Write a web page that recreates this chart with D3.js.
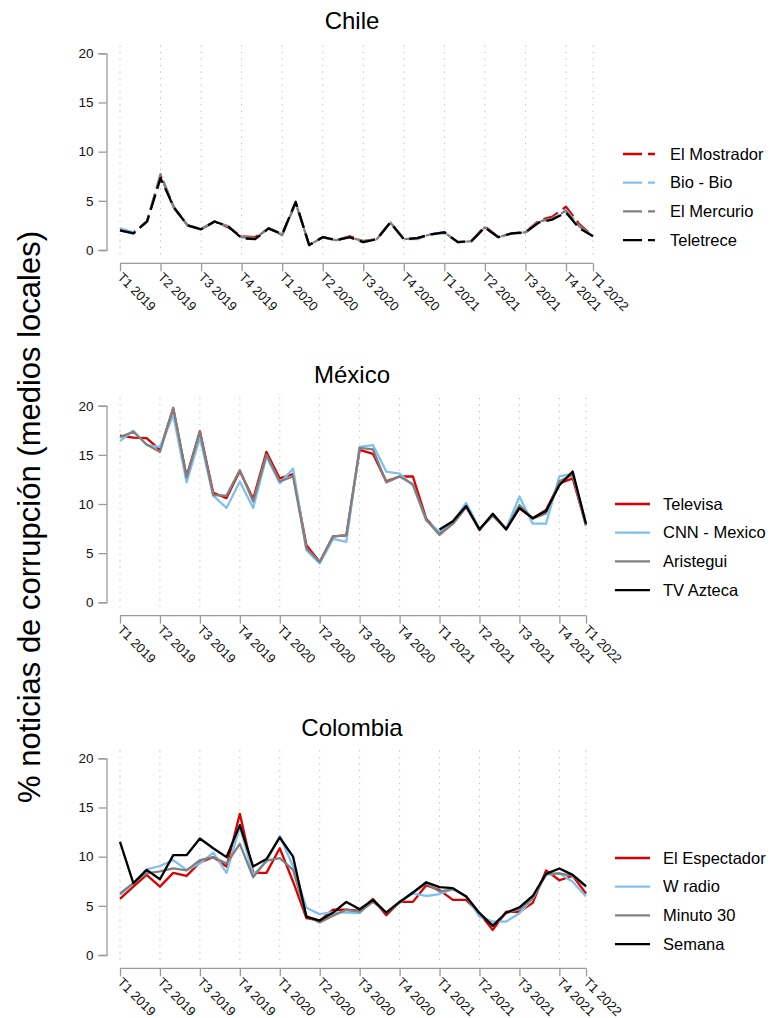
<!DOCTYPE html>
<html>
<head>
<meta charset="utf-8">
<script src="https://cdn.jsdelivr.net/npm/d3@7"></script>
<style>
  html, body { margin: 0; padding: 0; background: #fff; }
  svg { display: block; font-family: "Liberation Sans", Arial, Helvetica, sans-serif; }
</style>
</head>
<body>
<svg id="chart" width="772" height="1018"></svg>
<script>
// Quarter labels shown on the x axis (monthly data, one tick every 3 months)
const quarterLabels = ["T1 2019","T2 2019","T3 2019","T4 2019","T1 2020","T2 2020",
  "T3 2020","T4 2020","T1 2021","T2 2021","T3 2021","T4 2021","T1 2022"];
const quarterIdx = [0,3,6,9,12,15,18,21,24,27,30,33,35];
const yTicks = [0,5,10,15,20];

// Chile (monthly %)
const chileOutlets = ["El Mostrador","Bio - Bio","El Mercurio","Teletrece"];
const elMostrador = [2.0,1.8,2.9,7.6,4.3,2.5,2.1,2.9,2.3,1.4,1.3,2.2,1.6,4.8,0.5,1.3,1.0,1.4,
  0.9,1.1,2.8,1.1,1.2,1.6,1.8,0.8,0.9,2.4,1.3,1.7,1.8,3.0,3.4,4.4,2.6,1.4];
const bioBio = [2.2,1.8,2.9,7.7,4.3,2.5,2.2,2.9,2.4,1.3,1.2,2.2,1.6,4.7,0.5,1.3,1.0,1.3,
  0.8,1.1,2.8,1.1,1.1,1.6,1.7,0.8,0.9,2.3,1.3,1.7,1.7,2.9,3.2,4.1,2.4,1.4];
const elMercurio = [2.0,1.7,2.9,7.7,4.3,2.5,2.1,2.9,2.4,1.3,1.2,2.2,1.5,4.8,0.5,1.3,1.0,1.3,
  0.9,1.1,2.8,1.1,1.2,1.6,1.8,0.8,0.9,2.3,1.3,1.7,1.8,2.9,3.2,4.0,2.4,1.4];
const teletrece = [2.0,1.7,2.9,7.3,4.3,2.5,2.1,2.9,2.4,1.2,1.1,2.2,1.6,4.9,0.5,1.3,1.0,1.3,
  0.8,1.1,2.8,1.1,1.2,1.6,1.8,0.8,0.9,2.3,1.3,1.7,1.8,2.8,3.1,3.8,2.2,1.4];

// México (monthly %)
const mexicoOutlets = ["Televisa","CNN - Mexico","Aristegui","TV Azteca"];
const televisa = [16.95,16.75,16.7,15.5,19.7,12.8,17.4,11.15,10.6,13.35,10.5,15.3,12.6,13.05,5.8,4.1,6.7,6.8,
  15.5,15.1,12.3,12.8,12.8,8.5,7.0,8.0,9.7,7.35,8.95,7.5,9.55,8.55,9.4,12.1,12.6,7.85];
const cnnMexico = [16.4,17.45,16.0,15.8,19.05,12.2,16.75,10.85,9.6,12.3,9.6,14.8,12.1,13.6,5.3,3.95,6.45,6.15,
  15.8,16.0,13.3,13.1,11.9,8.3,7.2,8.2,10.1,7.5,8.8,7.5,10.75,8.0,8.0,12.8,13.1,7.9];
const aristegui = [16.8,17.35,16.05,15.3,19.8,12.7,17.35,10.9,10.85,13.45,10.25,15.0,12.3,12.8,5.5,4.1,6.7,6.8,
  15.7,15.55,12.2,12.8,12.0,8.4,6.85,8.0,9.7,7.45,8.8,7.45,9.9,8.5,9.05,12.3,13.0,7.8];
const tvAzteca = [null,null,null,null,null,null,null,null,null,null,null,null,null,null,null,null,null,null,
  null,null,null,null,null,null,7.4,8.25,9.8,7.4,9.0,7.4,9.6,8.55,9.3,11.9,13.3,8.0];

// Colombia (monthly %)
const colombiaOutlets = ["El Espectador","W radio","Minuto 30","Semana"];
const elEspectador = [5.7,6.95,8.15,6.95,8.35,8.05,9.4,9.95,9.0,14.35,8.35,8.35,10.85,7.45,3.75,3.5,4.6,4.6,
  4.5,5.7,4.05,5.4,5.4,7.1,6.6,5.6,5.6,4.25,2.55,4.4,4.4,5.3,8.6,7.6,8.05,6.25];
const wRadio = [6.1,7.3,8.7,9.05,9.65,8.65,9.3,10.4,8.35,13.05,8.15,9.5,12.1,9.0,4.8,4.15,4.35,4.3,
  4.25,5.6,4.3,5.4,6.25,6.0,6.2,6.7,5.95,3.9,3.4,3.4,4.25,5.75,8.15,8.3,7.45,5.95];
const minuto30 = [6.25,7.3,8.3,8.5,8.8,8.6,9.65,9.95,9.3,11.3,7.9,9.6,9.85,8.65,3.95,3.3,4.0,4.6,
  4.4,5.4,4.3,5.3,6.35,7.3,6.45,6.7,5.95,4.25,3.05,4.25,4.65,5.75,8.25,8.3,8.05,6.95];
const semana = [11.5,7.3,8.65,7.7,10.15,10.15,11.85,10.85,9.95,13.2,9.0,9.75,11.95,10.0,3.9,3.5,4.3,5.4,
  4.65,5.6,4.3,5.4,6.35,7.4,6.9,6.8,5.95,4.25,2.95,4.3,4.85,6.0,8.25,8.8,8.15,7.0];

const seriesColors = ["#dc0000","#7fc1ec","#808080","#000000"];

const panels = [
  { title: "Chile", outlets: chileOutlets, series: [elMostrador, bioBio, elMercurio, teletrece],
    dashed: true, x0: 120, x1: 593, yTop: 53.3, yBottom: 250, titleY: 29,
    legendY: 154, legendX0: 623, legendX1: 655, legendText: 670 },
  { title: "México", outlets: mexicoOutlets, series: [televisa, cnnMexico, aristegui, tvAzteca],
    dashed: false, x0: 120, x1: 586, yTop: 405.7, yBottom: 602.3, titleY: 383,
    legendY: 504, legendX0: 615, legendX1: 650, legendText: 663 },
  { title: "Colombia", outlets: colombiaOutlets, series: [elEspectador, wRadio, minuto30, semana],
    dashed: false, x0: 120, x1: 586, yTop: 758.3, yBottom: 955, titleY: 736,
    legendY: 858, legendX0: 615, legendX1: 650, legendText: 663 }
];

const svg = d3.select("#chart");
const axisGray = "#9a9a9a";
const dashPattern = "16,6";

panels.forEach(p => {
  const x = d3.scaleLinear().domain([0, 35]).range([p.x0, p.x1]);
  const y = d3.scaleLinear().domain([0, 20]).range([p.yBottom, p.yTop]);
  const g = svg.append("g");
  const unit = (p.yBottom - p.yTop) / 20;
  const gridTop = y(20) - 0.8 * unit, gridBottom = y(0) + 0.8 * unit;
  const axisY = p.yBottom + 13.3;

  // Title
  g.append("text").attr("x", 352).attr("y", p.titleY).attr("text-anchor", "middle")
    .attr("font-size", 24).attr("fill", "#000").text(p.title);

  // Dotted vertical gridlines at each quarter
  g.selectAll("line.grid").data(quarterIdx).enter().append("line")
    .attr("x1", d => x(d)).attr("x2", d => x(d))
    .attr("y1", gridTop).attr("y2", gridBottom)
    .attr("stroke", "#bdbdbd").attr("stroke-width", 1).attr("stroke-dasharray", "1.3,5.2");

  // Y axis
  const yAxis = d3.axisLeft(y).tickValues(yTicks).tickSize(8).tickPadding(5);
  const ya = g.append("g").attr("transform", "translate(106.5,0)").call(yAxis);
  ya.select(".domain").attr("stroke", axisGray).attr("stroke-width", 1.3);
  ya.selectAll(".tick line").attr("stroke", axisGray).attr("stroke-width", 1.3);
  ya.selectAll(".tick text").attr("font-size", 13.5).attr("fill", "#111")
    .attr("font-family", "'Liberation Sans', Arial, sans-serif");

  // X axis (quarter ticks, rotated labels)
  const xAxis = d3.axisBottom(x).tickValues(quarterIdx).tickSize(8)
    .tickFormat((d, i) => quarterLabels[i]);
  const xa = g.append("g").attr("transform", `translate(0,${axisY})`).call(xAxis);
  xa.select(".domain").attr("stroke", axisGray).attr("stroke-width", 1.3)
    .attr("d", `M${x(0)},0H${x(35)}`);
  xa.selectAll(".tick line").attr("stroke", axisGray).attr("stroke-width", 1.3);
  xa.selectAll(".tick text")
    .attr("font-size", 13).attr("fill", "#111")
    .attr("font-family", "'Liberation Sans', Arial, sans-serif")
    .attr("text-anchor", "start").attr("dy", null).attr("y", 0).attr("x", 0)
    .attr("transform", "translate(3,8) rotate(45)")
    .attr("dominant-baseline", "hanging");

  // Series lines
  const line = d3.line().defined(d => d != null).x((d, i) => x(i)).y(d => y(d));
  p.series.forEach((s, k) => {
    g.append("path").datum(s).attr("d", line)
      .attr("fill", "none").attr("stroke", seriesColors[k]).attr("stroke-width", 2.3)
      .attr("stroke-linejoin", "round")
      .attr("stroke-dasharray", p.dashed ? dashPattern : null);
  });

  // Legend
  const lg = g.append("g");
  p.outlets.forEach((name, k) => {
    const ly = p.legendY + k * 28.7;
    lg.append("line").attr("x1", p.legendX0).attr("x2", p.legendX1)
      .attr("y1", ly).attr("y2", ly).attr("stroke", seriesColors[k]).attr("stroke-width", 2.3)
      .attr("stroke-dasharray", p.dashed ? "19,6" : null);
    lg.append("text").attr("x", p.legendText).attr("y", ly).attr("dy", "0.35em")
      .attr("font-size", 16.5).attr("fill", "#000").text(name);
  });
});

// Shared y-axis title
svg.append("text")
  .attr("transform", "translate(40,517) rotate(-90)")
  .attr("text-anchor", "middle").attr("font-size", 31).attr("fill", "#000")
  .text("% noticias de corrupción (medios locales)");
</script>
</body>
</html>
